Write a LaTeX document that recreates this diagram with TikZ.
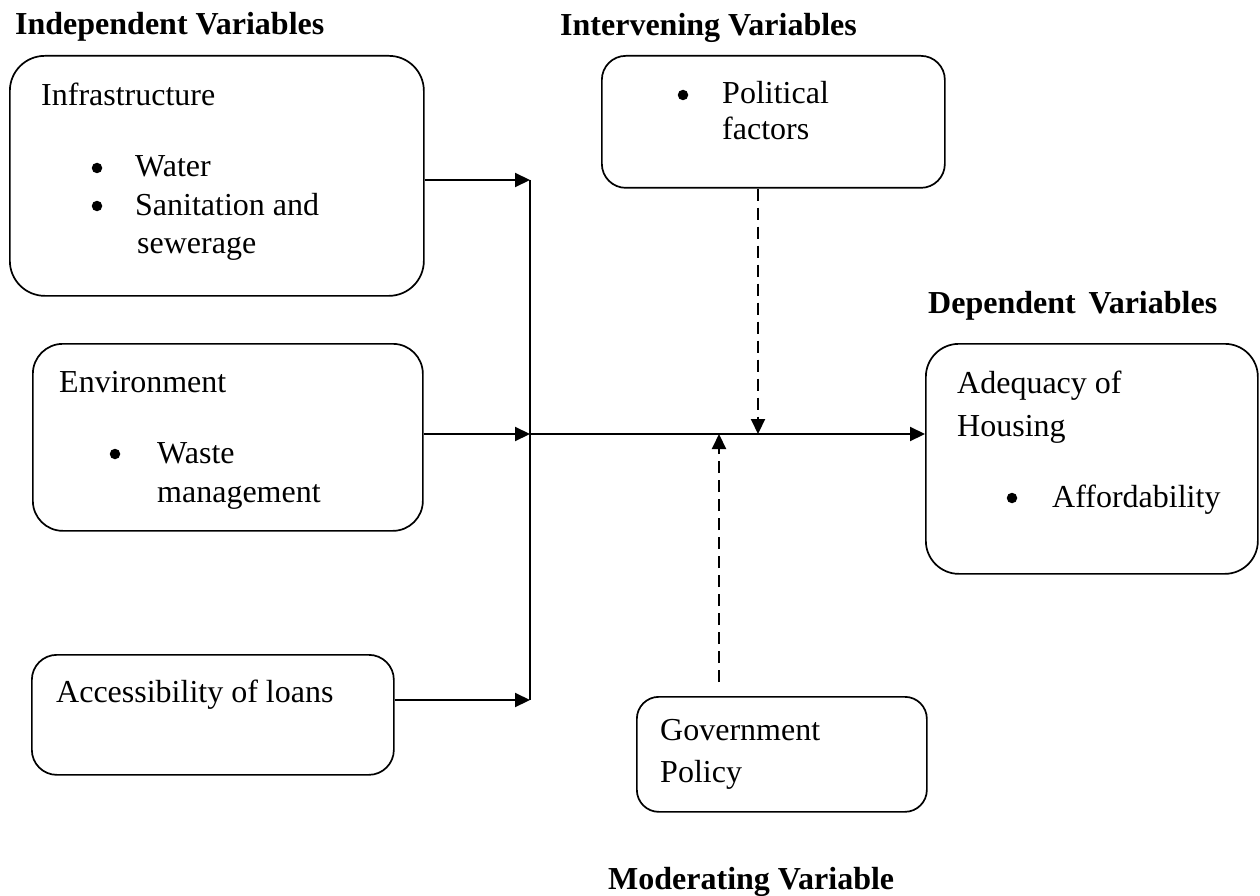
\documentclass[tikz,border=0pt]{standalone}
\usepackage{fontspec}
\setmainfont{Liberation Serif}
\usetikzlibrary{arrows.meta,calc}
\begin{document}
\begin{tikzpicture}[x=1pt,y=-1pt,
  box/.style={draw,line width=1.7pt,inner sep=0pt,anchor=north west},
  txt/.style={anchor=base west,inner sep=0pt,font=\fontsize{32}{38}\selectfont},
  ttl/.style={anchor=base west,inner sep=0pt,font=\fontsize{32}{38}\selectfont\bfseries},
  dot/.style={circle,fill,inner sep=0pt,minimum size=10.5pt},
  conn/.style={line width=2.1pt,-{Triangle[length=15pt,width=14pt]}},
  dconn/.style={conn,dash pattern=on 12pt off 7pt}]
\useasboundingbox (0,0) rectangle (1260,896);

% titles
\node[ttl] (tind) at (15,35) {Independent Variables};
\node[ttl] (tint) at (560,36) {Intervening Variables};
\node[ttl] (tdep) at (928,313) {Dependent\hspace{0.4em}Variables};
\node[ttl] (tmod) at (608,889) {Moderating Variable};

% boxes
\node[box,rounded corners=35pt,minimum width=414pt,minimum height=240pt] (infra) at (9,55) {};
\node[box,rounded corners=30pt,minimum width=390pt,minimum height=187pt] (env) at (32,343) {};
\node[box,rounded corners=25pt,minimum width=362pt,minimum height=120pt] (loans) at (31,654) {};
\node[box,rounded corners=24pt,minimum width=343pt,minimum height=132pt] (pol) at (601,55) {};
\node[box,rounded corners=22pt,minimum width=290pt,minimum height=115pt] (gov) at (636,696) {};
\node[box,rounded corners=33pt,minimum width=332pt,minimum height=230pt] (adeq) at (925,343) {};

% infrastructure text
\node[txt] (t1) at (41,106) {Infrastructure};
\node[dot] (b1) at (97,168) {};
\node[txt] (t2) at (135,177) {Water};
\node[dot] (b2) at (97,206) {};
\node[txt] (t3) at (135,215) {Sanitation and};
\node[txt] (t4) at (137,253) {sewerage};

% environment text
\node[txt] (t5) at (59,392) {Environment};
\node[dot] (b3) at (115,454) {};
\node[txt] (t6) at (157,463) {Waste};
\node[txt] (t7) at (157,502) {management};

% loans text
\node[txt] (t8) at (56,702) {Accessibility of loans};

% political text
\node[dot] (b4) at (683,95) {};
\node[txt] (t9) at (722,104) {Political};
\node[txt] (t10) at (722,140) {factors};

% government text
\node[txt] (t11) at (660,740) {Government};
\node[txt] (t12) at (660,782) {Policy};

% adequacy text
\node[txt] (t13) at (957,393) {Adequacy of};
\node[txt] (t14) at (957,436) {Housing};
\node[dot] (b5) at (1012,498) {};
\node[txt] (t15) at (1052,507) {Affordability};

% junction coordinates
\coordinate (j1) at (530,180);
\coordinate (j2) at (530,434);
\coordinate (j3) at (530,700);
\coordinate (p1) at (758,434);
\coordinate (g1) at (719,434);

% connectors
\draw[conn] (infra.east |- j1) -- (j1);
\draw[conn] (env.east |- j2) -- (j2);
\draw[conn] (loans.east |- j3) -- (j3);
\draw[line width=2.1pt] (j1) -- (j3);
\draw[conn] (j2) -- (adeq.west |- j2);
\draw[dconn] (pol.south -| p1) -- (p1);
\draw[dconn,shorten <=14pt] (gov.north -| g1) -- (g1);
\end{tikzpicture}
\end{document}
